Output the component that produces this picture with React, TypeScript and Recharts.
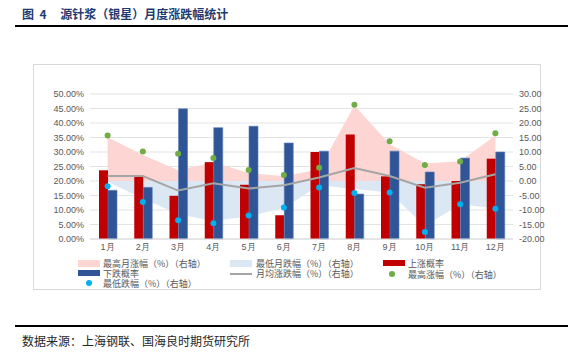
import React from 'react';
import { ComposedChart, Bar, Line, Area, XAxis, YAxis, CartesianGrid } from 'recharts';

const months = ['1月', '2月', '3月', '4月', '5月', '6月', '7月', '8月', '9月', '10月', '11月', '12月'];
// left axis, %
const upProb = [23.7, 21.4, 14.9, 26.5, 18.7, 8.2, 30.0, 36.0, 21.6, 18.9, 20.0, 27.7];
const downProb = [16.8, 17.8, 44.9, 38.4, 38.9, 33.1, 30.3, 15.5, 30.3, 23.1, 27.9, 30.0];
// right axis
const maxMonthRise = [15.1, 9.0, 3.7, 6.5, 2.8, 1.6, 4.0, 26.0, 12.8, 6.0, 6.8, 15.7];
const minMonthFall = [-0.3, -6.0, -11.5, -13.8, -12.2, -9.3, -1.5, -2.8, -4.0, -15.5, -8.0, -9.5];
const avgChange = [1.7, 1.7, -3.3, -0.8, -2.6, -1.5, 1.2, 4.5, 1.7, -2.3, -0.6, 2.3];
const maxRise = [15.7, 10.2, 9.4, 7.9, 3.8, 2.1, 4.6, 26.3, 13.7, 5.5, 6.7, 16.5];
const maxFall = [-1.8, -7.2, -13.5, -14.6, -11.9, -9.1, -2.2, -4.1, -4.0, -17.6, -8.0, -9.6];

const leftTicks = [0, 5, 10, 15, 20, 25, 30, 35, 40, 45, 50];
const rightTicks = [-20, -15, -10, -5, 0, 5, 10, 15, 20, 25, 30];

const data = months.map((m, i) => ({
  month: m,
  up: upProb[i],
  down: downProb[i],
  hiArea: maxMonthRise[i],
  loArea: minMonthFall[i],
  avg: avgChange[i],
  hi: maxRise[i],
  lo: maxFall[i],
}));

const CJK = '"Noto Sans CJK SC", "Liberation Sans", sans-serif';
const tickStyle = { fill: '#595959', fontSize: 9, fontFamily: '"Liberation Sans", Arial, sans-serif' };

const legendText: React.CSSProperties = {
  position: 'absolute',
  fontSize: 9,
  color: '#595959',
  fontFamily: CJK,
  lineHeight: '9px',
  height: 9,
  whiteSpace: 'nowrap',
};

function Swatch({ x, y, w, h, color }: { x: number; y: number; w: number; h: number; color: string }) {
  return <div style={{ position: 'absolute', left: x, top: y - h / 2, width: w, height: h, background: color }} />;
}

function Dot({ x, y, color }: { x: number; y: number; color: string }) {
  return <div style={{ position: 'absolute', left: x - 3, top: y - 3, width: 6, height: 6, borderRadius: 3, background: color }} />;
}

function Label({ x, y, text }: { x: number; y: number; text: string }) {
  return <div style={{ ...legendText, left: x, top: y - 4.5 }}>{text}</div>;
}

export default function App() {
  return (
    <div style={{ position: 'absolute', left: 0, top: 0, width: 583, height: 355, background: '#fff', overflow: 'hidden' }}>
      <div style={{ position: 'absolute', left: 22, top: 6, fontFamily: CJK, fontWeight: 'bold', fontSize: 12, color: '#1F3A6E', whiteSpace: 'pre', lineHeight: '16px' }}>
        {'图  4     源针浆（银星）月度涨跌幅统计'}
      </div>
      <div style={{ position: 'absolute', left: 15, top: 25, width: 553, height: 1.5, background: '#000' }} />

      <div style={{ position: 'absolute', left: 33, top: 64, width: 506, height: 224, border: '1px solid #D9D9D9' }} />

      <div style={{ position: 'absolute', left: 33, top: 64 }}>
        <ComposedChart
          width={540}
          height={225}
          data={data}
          margin={{ top: 30, right: 32, left: 0, bottom: 36 }}
          barGap={0}
          barCategoryGap="24%"
        >
          <CartesianGrid stroke="#E3E3E3" vertical={false} yAxisId="left" />
          <XAxis
            dataKey="month"
            axisLine={{ stroke: '#D9D9D9' }}
            tickLine={false}
            tickSize={3}
            tickMargin={2}
            height={14}
            interval={0}
            tick={tickStyle}
          />
          <YAxis
            yAxisId="left"
            domain={[0, 50]}
            ticks={leftTicks}
            interval={0}
            width={57}
            axisLine={false}
            tickLine={false}
            tickSize={4}
            tickMargin={2}
            tick={tickStyle}
            tickFormatter={(v: number) => `${v.toFixed(2)}%`}
          />
          <YAxis
            yAxisId="right"
            orientation="right"
            domain={[-20, 30]}
            ticks={rightTicks}
            interval={0}
            width={28}
            axisLine={false}
            tickLine={false}
            tickSize={4}
            tickMargin={2}
            tick={tickStyle}
            tickFormatter={(v: number) => v.toFixed(2)}
          />
          <Area yAxisId="right" type="linear" dataKey="hiArea" baseValue={0} stroke="none" fill="#FDD5D2" fillOpacity={1} isAnimationActive={false} />
          <Area yAxisId="right" type="linear" dataKey="loArea" baseValue={0} stroke="none" fill="#DCE7F4" fillOpacity={1} isAnimationActive={false} />
          <Bar yAxisId="left" dataKey="up" fill="#C00000" barSize={9} isAnimationActive={false} />
          <Bar yAxisId="left" dataKey="down" fill="#2F5597" stroke="#5B7DB8" strokeWidth={0.6} barSize={9} isAnimationActive={false} />
          <Line yAxisId="right" type="linear" dataKey="avg" stroke="#A5A5A5" strokeWidth={2} dot={false} isAnimationActive={false} />
          <Line yAxisId="right" dataKey="hi" stroke="none" dot={{ r: 3, fill: '#70AD47', stroke: 'none' }} activeDot={false} isAnimationActive={false} />
          <Line yAxisId="right" dataKey="lo" stroke="none" dot={{ r: 3, fill: '#00B0F0', stroke: 'none' }} activeDot={false} isAnimationActive={false} />
        </ComposedChart>
      </div>

      {/* legend */}
      <Swatch x={78} y={263} w={22} h={7} color="#FDD5D2" />
      <Label x={103} y={263} text="最高月涨幅（%）（右轴）" />
      <Swatch x={230} y={263} w={22} h={7} color="#DCE7F4" />
      <Label x={256} y={263} text="最低月跌幅（%）（右轴）" />
      <Swatch x={383} y={263} w={22} h={6} color="#C00000" />
      <Label x={408} y={263} text="上涨概率" />
      <Swatch x={78} y={273} w={22} h={6} color="#2F5597" />
      <Label x={103} y={273} text="下跌概率" />
      <Swatch x={230} y={273.5} w={22} h={2} color="#A5A5A5" />
      <Label x={256} y={273.5} text="月均涨跌幅（%）（右轴）" />
      <Dot x={392} y={274} color="#70AD47" />
      <Label x={408} y={274} text="最高涨幅（%）（右轴）" />
      <Dot x={89} y={283} color="#00B0F0" />
      <Label x={103} y={283.5} text="最低跌幅（%）（右轴）" />

      <div style={{ position: 'absolute', left: 15, top: 325, width: 553, height: 1.5, background: '#000' }} />
      <div style={{ position: 'absolute', left: 22, top: 333, fontFamily: CJK, fontSize: 12, color: '#262626', lineHeight: '16px', whiteSpace: 'nowrap' }}>
        数据来源：上海钢联、国海良时期货研究所
      </div>
    </div>
  );
}
